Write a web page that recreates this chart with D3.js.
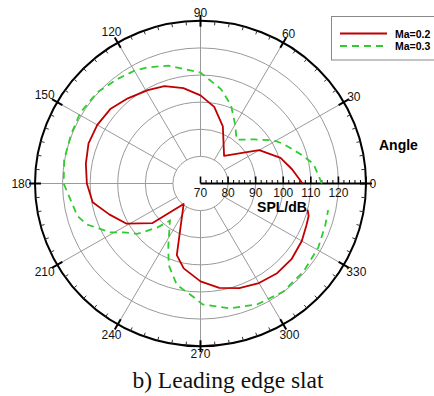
<!DOCTYPE html>
<html>
<head>
<meta charset="utf-8">
<script src="https://cdn.jsdelivr.net/npm/d3@7"></script>
<style>
  html, body { margin: 0; padding: 0; background: #fff; }
  svg { display: block; }
</style>
</head>
<body>
<div id="root"><svg></svg></div>
<script>
const width = 434, height = 396;

// Ma = 0.2 (angle in degrees, SPL in dB)
const redAngle = [0,9,18,30,36,50,69,80,90,100,110,119,130,140,150,160,170,180,190,199,209,220,231,252,259,270,280,290,300,310,320,330,338,343,346];
const redSPL = [107,103.6,100.5,94.6,89.4,83.3,92.6,98.7,102.5,105.7,108.2,109.4,111,112.7,113.2,113.2,112.2,111.2,109.7,105,100.6,92.7,79.7,97.8,101.9,106.1,109.1,111.1,112.4,113.2,113.2,112.4,111.4,111,110];

// Ma = 0.3
const greenAngle = [0,10,16,26,31,40,51,60,69,78,90,105,114,120,128,138,149,159,170,180,186,195,200,209,213,219,226,231,243,249,257,267,271,283,295,307,319,331,341,348];
const greenSPL = [114,111.6,108.2,103.4,100.9,95.3,90.8,95.1,100.9,105.6,110.9,115,116.9,118,118.9,120.3,120.8,120.3,120.2,119.6,117.8,116.2,114,107.2,103.1,99.5,92.6,87.6,95.7,102.2,108.3,112.2,114.6,117.3,119.1,119.9,119.5,118.8,117.8,117.3];

const gridSPL = [80, 90, 100, 110, 120];
const radialTicks = [70, 80, 90, 100, 110, 120];
const angleTicks = [0, 30, 60, 90, 120, 150, 180, 210, 240, 270, 300, 330];

const cx = 200.5, cy = 183.5, ky = 0.983;
const r = d3.scaleLinear().domain([70, 130]).range([0, 165.5]);
const R = r(130);

const ptR = (a, rad) => {
    const t = a * Math.PI / 180;
    return [cx + rad * Math.cos(t), cy - ky * rad * Math.sin(t)];
};
const pt = (a, v) => ptR(a, r(v));

const svg = d3.select('#root').select('svg')
    .attr('width', width)
    .attr('height', height);

// grid circles
svg.append('g').selectAll('ellipse')
    .data(gridSPL)
    .enter().append('ellipse')
    .attr('cx', cx).attr('cy', cy)
    .attr('rx', d => r(d)).attr('ry', d => ky * r(d))
    .attr('fill', 'none')
    .attr('stroke', '#9a9a9a')
    .attr('stroke-width', 1);

// spokes
svg.append('g').selectAll('line')
    .data(angleTicks.filter(a => a !== 0))
    .enter().append('line')
    .attr('x1', d => pt(d, 80)[0]).attr('y1', d => pt(d, 80)[1])
    .attr('x2', d => pt(d, 130)[0]).attr('y2', d => pt(d, 130)[1])
    .attr('stroke', '#9a9a9a')
    .attr('stroke-width', 1);

// outer circle
svg.append('ellipse')
    .attr('cx', cx).attr('cy', cy)
    .attr('rx', R).attr('ry', ky * R)
    .attr('fill', 'none')
    .attr('stroke', '#000')
    .attr('stroke-width', 2);

// outer ticks
const minorA = d3.range(0, 360, 5).filter(a => a % 30 !== 0);
svg.append('g').selectAll('line')
    .data(minorA)
    .enter().append('line')
    .attr('x1', d => ptR(d, R)[0]).attr('y1', d => ptR(d, R)[1])
    .attr('x2', d => ptR(d, R - 4)[0]).attr('y2', d => ptR(d, R - 4)[1])
    .attr('stroke', '#333')
    .attr('stroke-width', 1);
svg.append('g').selectAll('line')
    .data(angleTicks)
    .enter().append('line')
    .attr('x1', d => ptR(d, R - 6)[0]).attr('y1', d => ptR(d, R - 6)[1])
    .attr('x2', d => ptR(d, R + 6)[0]).attr('y2', d => ptR(d, R + 6)[1])
    .attr('stroke', '#000')
    .attr('stroke-width', 2);

// angle labels
svg.append('g').selectAll('text')
    .data(angleTicks)
    .enter().append('text')
    .each(function(d) {
        const t = d * Math.PI / 180;
        const s = String(d);
        const w = s.length * 6.7, h = 9;
        const rad = 169 + Math.abs(Math.cos(t)) * w / 2 + Math.abs(Math.sin(t)) * h / 2;
        const p = ptR(d, rad);
        d3.select(this)
            .attr('x', p[0]).attr('y', p[1] + 4.3)
            .attr('text-anchor', 'middle')
            .attr('font-family', 'Liberation Sans, Arial, sans-serif')
            .attr('font-size', '12px')
            .attr('fill', '#111')
            .text(s);
    });

// radial axis
const ax = svg.append('g');
ax.append('line')
    .attr('x1', cx).attr('y1', cy)
    .attr('x2', cx + R).attr('y2', cy)
    .attr('stroke', '#000')
    .attr('stroke-width', 2);
ax.selectAll('line.tk')
    .data(d3.range(70, 131, 2))
    .enter().append('line')
    .attr('class', 'tk')
    .attr('x1', d => cx + r(d)).attr('x2', d => cx + r(d))
    .attr('y1', cy)
    .attr('y2', d => cy - (d % 10 === 0 ? 7 : 3.5))
    .attr('stroke', '#000')
    .attr('stroke-width', d => d % 10 === 0 ? 1.6 : 1);
ax.selectAll('text')
    .data(radialTicks)
    .enter().append('text')
    .attr('x', d => cx + r(d))
    .attr('y', cy + 13)
    .attr('text-anchor', 'middle')
    .attr('font-family', 'Liberation Sans, Arial, sans-serif')
    .attr('font-size', '12px')
    .attr('fill', '#111')
    .text(d => d);

svg.append('text')
    .attr('x', 282).attr('y', 211.5)
    .attr('text-anchor', 'middle')
    .attr('font-family', 'Liberation Sans, Arial, sans-serif')
    .attr('font-weight', 'bold')
    .attr('font-size', '14px')
    .text('SPL/dB');

svg.append('text')
    .attr('x', 379).attr('y', 150)
    .attr('font-family', 'Liberation Sans, Arial, sans-serif')
    .attr('font-weight', 'bold')
    .attr('font-size', '14px')
    .text('Angle');

// curves
const line = d3.line();
svg.append('path')
    .attr('d', line(redAngle.map((a, i) => pt(a, redSPL[i]))))
    .attr('fill', 'none')
    .attr('stroke', '#c00000')
    .attr('stroke-width', 1.8)
    .attr('stroke-linejoin', 'round');
svg.append('path')
    .attr('d', line(greenAngle.map((a, i) => pt(a, greenSPL[i]))))
    .attr('fill', 'none')
    .attr('stroke', '#2ecc2e')
    .attr('stroke-width', 1.8)
    .attr('stroke-dasharray', '7,5');

// legend
const lg = svg.append('g');
lg.append('rect')
    .attr('x', 331.5).attr('y', 16.5)
    .attr('width', 120).attr('height', 43.5)
    .attr('fill', '#fff')
    .attr('stroke', '#888')
    .attr('stroke-width', 1);
const legendItems = [
    {name: 'Ma=0.2', color: '#c00000', dash: null},
    {name: 'Ma=0.3', color: '#2ecc2e', dash: '7,5'}
];
legendItems.forEach((d, i) => {
    const y = 33.5 + i * 12.5;
    lg.append('line')
        .attr('x1', 340).attr('x2', 387)
        .attr('y1', y).attr('y2', y)
        .attr('stroke', d.color)
        .attr('stroke-width', 1.8)
        .attr('stroke-dasharray', d.dash);
    lg.append('text')
        .attr('x', 395).attr('y', y + 4)
        .attr('font-family', 'Liberation Sans, Arial, sans-serif')
        .attr('font-weight', 'bold')
        .attr('font-size', '10.5px')
        .text(d.name);
});

// caption
svg.append('text')
    .attr('x', 228).attr('y', 388)
    .attr('text-anchor', 'middle')
    .attr('font-family', 'Liberation Serif, Times New Roman, serif')
    .attr('font-size', '23.5px')
    .attr('fill', '#111')
    .text('b) Leading edge slat');
</script>
</body>
</html>
